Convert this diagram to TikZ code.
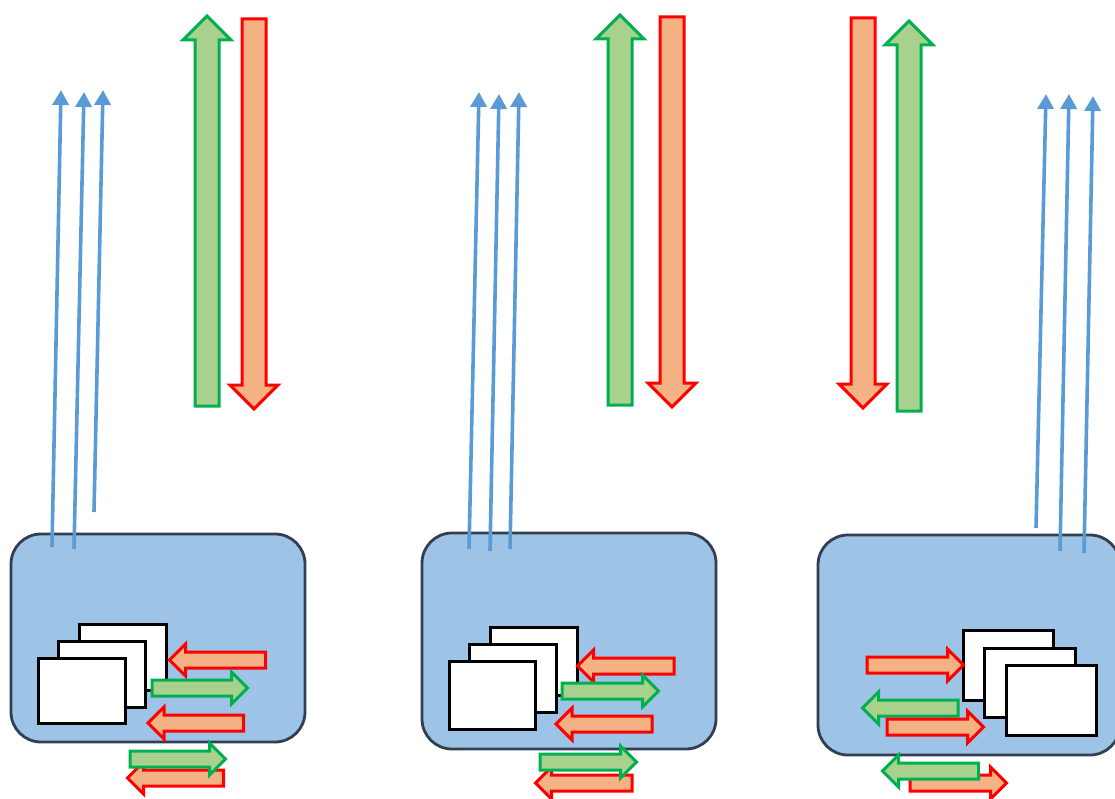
\documentclass[tikz,border=0pt]{standalone}
\usetikzlibrary{arrows.meta}
\definecolor{gborder}{HTML}{00B050}
\definecolor{gfill}{HTML}{A9D18E}
\definecolor{rborder}{HTML}{FF0000}
\definecolor{rfill}{HTML}{F4B183}
\definecolor{bline}{HTML}{5B9BD5}
\definecolor{bfill}{HTML}{9DC3E6}
\definecolor{bborder}{HTML}{333F50}
\tikzset{
  greenarrow/.style={draw=gborder,fill=gfill,line width=3pt,miter limit=10},
  redarrow/.style={draw=rborder,fill=rfill,line width=3pt,miter limit=10},
  unitbox/.style={draw=bborder,fill=bfill,line width=2.8pt,rounded corners=30pt},
  card/.style={draw=black,fill=white,line width=3pt},
  signal/.style={draw=bline,line width=3.6pt,-{Triangle[width=16pt,length=15pt]}}
}
% style, tail x, tip x, y
\newcommand{\harrow}[4]{%
  \pgfmathsetmacro{\hsgn}{(#3>#2)?1:-1}%
  \pgfmathsetmacro{\hbase}{#3-\hsgn*16}%
  \path[#1] (#2,#4-8) -- (\hbase,#4-8) -- (\hbase,#4-16) -- (#3,#4) -- (\hbase,#4+16) -- (\hbase,#4+8) -- (#2,#4+8) -- cycle;}
% style, x, tail y, tip y
\newcommand{\varrow}[4]{%
  \pgfmathsetmacro{\vsgn}{(#4>#3)?1:-1}%
  \pgfmathsetmacro{\vbase}{#4-\vsgn*24}%
  \path[#1] (#2-12,#3) -- (#2-12,\vbase) -- (#2-24,\vbase) -- (#2,#4) -- (#2+24,\vbase) -- (#2+12,\vbase) -- (#2+12,#3) -- cycle;}
\begin{document}
\begin{tikzpicture}[x=1pt,y=-1pt]
\useasboundingbox (0,0) rectangle (1115,799);
\clip (0,0) rectangle (1115,799);
% left unit
\draw[unitbox] (11,534) rectangle (305,742);
\draw[signal] (52,547) -- (61,90);
\draw[signal] (74,549) -- (84,92);
\draw[signal] (94,512) -- (103,90);
\varrow{greenarrow}{207}{406}{16}
\varrow{redarrow}{254}{19}{409}
\draw[card] (79,624) rectangle (166,690);
\draw[card] (58,641) rectangle (145,707);
\draw[card] (38,658) rectangle (125,723);
\harrow{redarrow}{265.5}{169.5}{660}
\harrow{greenarrow}{152}{247.5}{688}
\harrow{redarrow}{243.5}{148}{723}
\harrow{redarrow}{223.5}{127.5}{778}
\harrow{greenarrow}{130}{225.5}{759}
% middle unit
\draw[unitbox] (422,533) rectangle (716,749);
\draw[signal] (469,549) -- (479,92);
\draw[signal] (490,551) -- (499,94);
\draw[signal] (510,549) -- (519,92);
\varrow{greenarrow}{620}{405}{15}
\varrow{redarrow}{672}{17}{407}
\draw[card] (490,627) rectangle (577,695);
\draw[card] (469,644) rectangle (556,712);
\draw[card] (449,661) rectangle (535,729);
\harrow{redarrow}{674}{577.5}{666}
\harrow{greenarrow}{562}{658.5}{691}
\harrow{redarrow}{652}{556}{724}
\harrow{redarrow}{632}{535.5}{783}
\harrow{greenarrow}{540}{636.5}{762}
% right unit
\draw[unitbox] (818,535) rectangle (1120,755);
\draw[signal] (1036,528) -- (1046,94);
\draw[signal] (1060,551) -- (1069,94);
\draw[signal] (1084,553) -- (1093,96);
\varrow{redarrow}{863}{18}{408}
\varrow{greenarrow}{909}{411}{21}
\draw[card] (963,630) rectangle (1053,700);
\draw[card] (984,648) rectangle (1075,717);
\draw[card] (1006,665) rectangle (1096,735);
\harrow{redarrow}{867}{963.5}{665}
\harrow{greenarrow}{958}{862.5}{708}
\harrow{redarrow}{887}{983.5}{727}
\harrow{redarrow}{910}{1006.5}{783}
\harrow{greenarrow}{978.5}{882.5}{771}
\end{tikzpicture}
\end{document}
